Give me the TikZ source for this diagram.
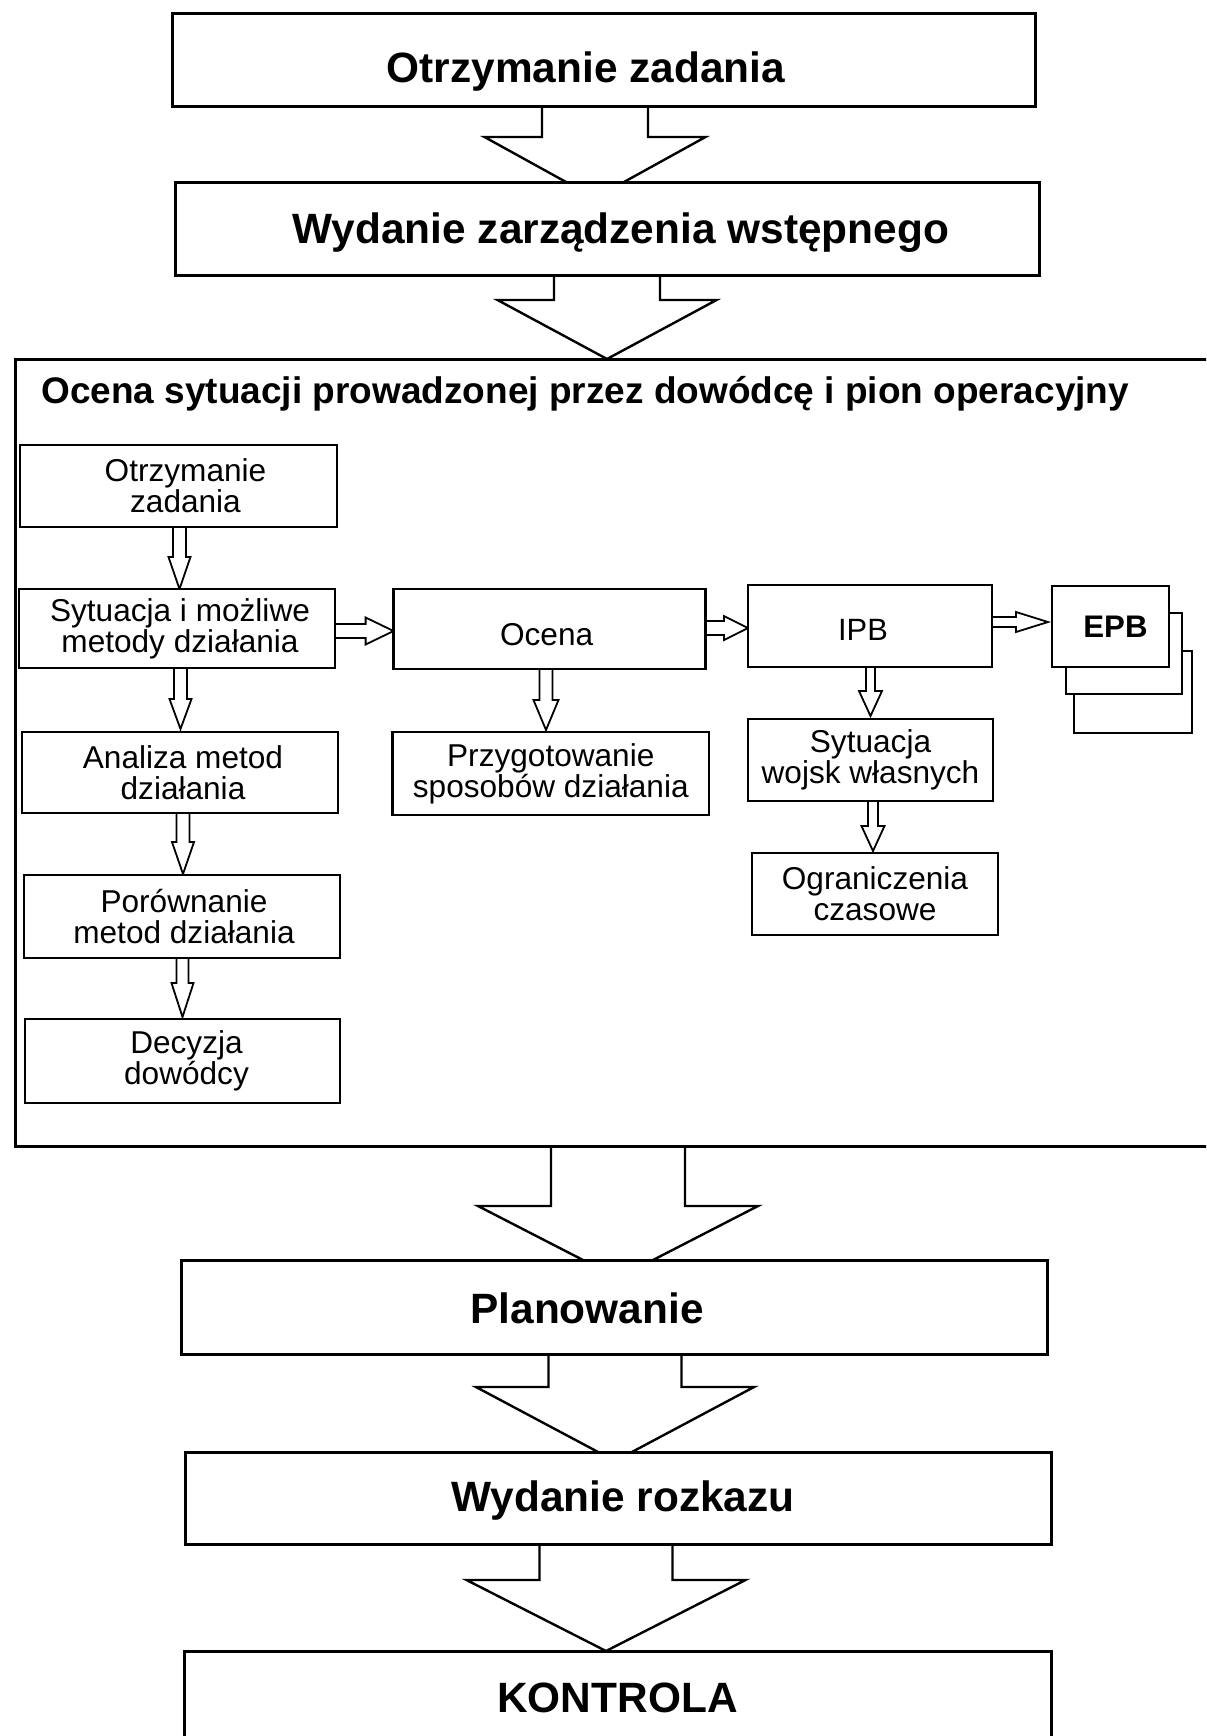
\documentclass[tikz,border=0pt]{standalone}
\usepackage{fontspec}
\setmainfont{Liberation Sans}
\usetikzlibrary{calc}
\pgfdeclarelayer{paper}
\pgfdeclarelayer{arrows}
\pgfsetlayers{paper,arrows,main}

% hollow block arrow pointing down: #1 style, #2 source point, #3 tip,
% #4 shaft half-width, #5 head half-width, #6 head length
\newcommand\downblock[6]{%
  \draw[#1] ($(#3 |- #2)+(-#4,0)$) -- ($(#3)+(-#4,-#6)$) -- ($(#3)+(-#5,-#6)$)
    -- (#3) -- ($(#3)+(#5,-#6)$) -- ($(#3)+(#4,-#6)$) -- ($(#3 |- #2)+(#4,0)$);}
% hollow block arrow pointing right, same arguments
\newcommand\rightblock[6]{%
  \draw[#1] ($(#3 -| #2)+(0,-#4)$) -- ($(#3)+(-#6,-#4)$) -- ($(#3)+(-#6,-#5)$)
    -- (#3) -- ($(#3)+(-#6,#5)$) -- ($(#3)+(-#6,#4)$) -- ($(#3 -| #2)+(0,#4)$);}

\begin{document}
\begin{tikzpicture}[x=0.5pt,y=-0.5pt,
  bigbox/.style={draw, line width=1.5pt, fill=white, inner sep=0pt, outer sep=0pt,
    text depth=0pt, font=\fontsize{21.2}{25}\selectfont\bfseries},
  smallbox/.style={draw, line width=1.15pt, fill=white, inner sep=0pt, outer sep=0pt,
    align=center, font=\fontsize{15.8}{15.5}\selectfont},
  pagebox/.style={draw, line width=1.2pt, fill=white, inner sep=0pt, outer sep=0pt},
  titletext/.style={inner sep=0pt, font=\fontsize{18.5}{22}\selectfont\bfseries},
  frame/.style={line width=1.5pt},
  bigarrow/.style={draw, line width=1.2pt, fill=white, line join=miter},
  smallarrow/.style={draw, line width=0.9pt, fill=white, line join=miter}]

\path[use as bounding box] (0,0) rectangle (1206,1736);
\begin{pgfonlayer}{paper}
  \fill[white] (0,0) rectangle (1206,1736);
\end{pgfonlayer}
\clip (0,0) rectangle (1206,1736);

% main sequence
\node[bigbox, minimum width=431.5pt, minimum height=46.5pt, text height=22.5pt]
  (b1) at (603.5,59.5) {\kern-17.7pt Otrzymanie zadania};
\node[bigbox, minimum width=432pt, minimum height=46.5pt, text height=14.5pt]
  (b2) at (607,228.5) {Wydanie zarządzenia wstępnego\kern-13.8pt};
\node[bigbox, minimum width=433pt, minimum height=47pt, text height=16pt]
  (b3) at (614,1307) {\kern-27pt Planowanie};
\node[bigbox, minimum width=433pt, minimum height=46pt, text height=13pt]
  (b4) at (618,1498) {Wydanie rozkazu\kern-5pt};
\node[bigbox, minimum width=433.5pt, minimum height=74.5pt, text height=0pt, text depth=13.5pt]
  (b5) at (617.5,1725.5) {KONTROLA};

% frame of the situation assessment
\draw[frame] (1240,359) -| (15,1146) -- (1240,1146);
\coordinate (ct) at (607,359);
\coordinate (cb) at (618,1146);
\node[titletext, anchor=base west] (title) at (41,403)
  {Ocena sytuacji prowadzonej przez dowódcę i pion operacyjny};

% left column
\node[smallbox, minimum width=158.5pt, minimum height=41pt] (s1) at (178.5,486) {Otrzymanie\kern-7pt\\zadania\kern-7pt};
\node[smallbox, minimum width=158pt, minimum height=39.5pt] (s2) at (177,628.5) {Sytuacja i możliwe\kern-3pt\\metody działania\kern-3pt};
\node[smallbox, minimum width=158pt, minimum height=40.5pt] (s3) at (180,772.5) {Analiza metod\kern-3pt\\działania\kern-3pt};
\node[smallbox, minimum width=158pt, minimum height=41.5pt] (s4) at (182,916.5) {Porównanie\kern-2pt\\metod działania\kern-2pt};
\node[smallbox, minimum width=157.5pt, minimum height=42pt] (s5) at (182.5,1061) {Decyzja\kern-4pt\\dowódcy\kern-4pt};

% middle column
\node[smallbox, minimum width=156pt, minimum height=40pt, text height=16pt, text depth=0pt] (ocena) at (549.6,629) {\kern-3pt Ocena};
\node[smallbox, minimum width=158.2pt, minimum height=41.5pt] (przyg) at (550.8,773.5) {Przygotowanie\\sposobów działania};

% right column
\node[smallbox, minimum width=122pt, minimum height=41pt, text height=14pt, text depth=0pt,
  font=\fontsize{15.4}{15}\selectfont] (ipb) at (870,626) {\kern-7pt IPB};
\node[smallbox, minimum width=122.5pt, minimum height=41pt] (wojsk) at (870.5,760) {Sytuacja\\wojsk własnych};
\node[smallbox, minimum width=123pt, minimum height=41pt] (czas) at (875,894) {Ograniczenia\\czasowe};

% stacked EPB sheets
\node[pagebox, minimum width=59pt, minimum height=41pt] (epb3) at (1133,692) {};
\node[pagebox, minimum width=58pt, minimum height=40.5pt] (epb2) at (1124,653.5) {};
\node[pagebox, minimum width=58.5pt, minimum height=40.5pt,
  font=\fontsize{15.6}{15}\selectfont\bfseries] (epb) at (1110.5,626.5) {EPB\kern-5pt};

% tips of the arrows
\coordinate (t1) at ($(b2.north)+(-12,16)$);
\coordinate (t3) at ($(b3.north)+(4,18)$);
\coordinate (t4) at ($(b4.north)+(-3,9)$);
\coordinate (t5) at ($(b5.north)+(-11.5,0)$);
\coordinate (u12) at ($(s2.north)+(2.5,0)$);
\coordinate (u23) at ($(s3.north)+(0.5,-3)$);
\coordinate (u34) at ($(s4.north)+(1,-1)$);
\coordinate (u45) at ($(s5.north)+(0,-2)$);
\coordinate (uog) at ($(przyg.north)+(-4.8,-2)$);
\coordinate (uiw) at ($(wojsk.north)+(0,-3)$);
\coordinate (uwc) at ($(czas.north)+(-2,-2)$);
\coordinate (r2o) at ($(ocena.west)+(0,2)$);
\coordinate (roi) at ($(ipb.west)+(0,2)$);
\coordinate (rie) at ($(epb.west)+(-4,-4.5)$);

\begin{pgfonlayer}{arrows}
  \downblock{bigarrow}{b1.south}{t1}{53}{110.5}{61}
  \downblock{bigarrow}{b2.south}{ct}{53}{109.5}{59}
  \downblock{bigarrow}{cb}{t3}{67}{140}{72}
  \downblock{bigarrow}{b3.south}{t4}{66.5}{139}{74}
  \downblock{bigarrow}{b4.south}{t5}{66.5}{139.5}{71}

  \downblock{smallarrow}{s1.south}{u12}{6.5}{11}{32}
  \downblock{smallarrow}{s2.south}{u23}{6.5}{11}{30}
  \downblock{smallarrow}{s3.south}{u34}{6.5}{11}{32}
  \downblock{smallarrow}{s4.south}{u45}{6}{11}{34}
  \downblock{smallarrow}{ocena.south}{uog}{6.5}{12.5}{30}
  \downblock{smallarrow}{ipb.south}{uiw}{4.5}{11.5}{25}
  \downblock{smallarrow}{wojsk.south}{uwc}{5}{11.5}{25}

  \rightblock{smallarrow}{s2.east}{r2o}{7}{13.5}{28}
  \rightblock{smallarrow}{ocena.east}{roi}{7}{12}{24}
  \rightblock{smallarrow}{ipb.east}{rie}{5}{10}{32}
\end{pgfonlayer}

\end{tikzpicture}
\end{document}
